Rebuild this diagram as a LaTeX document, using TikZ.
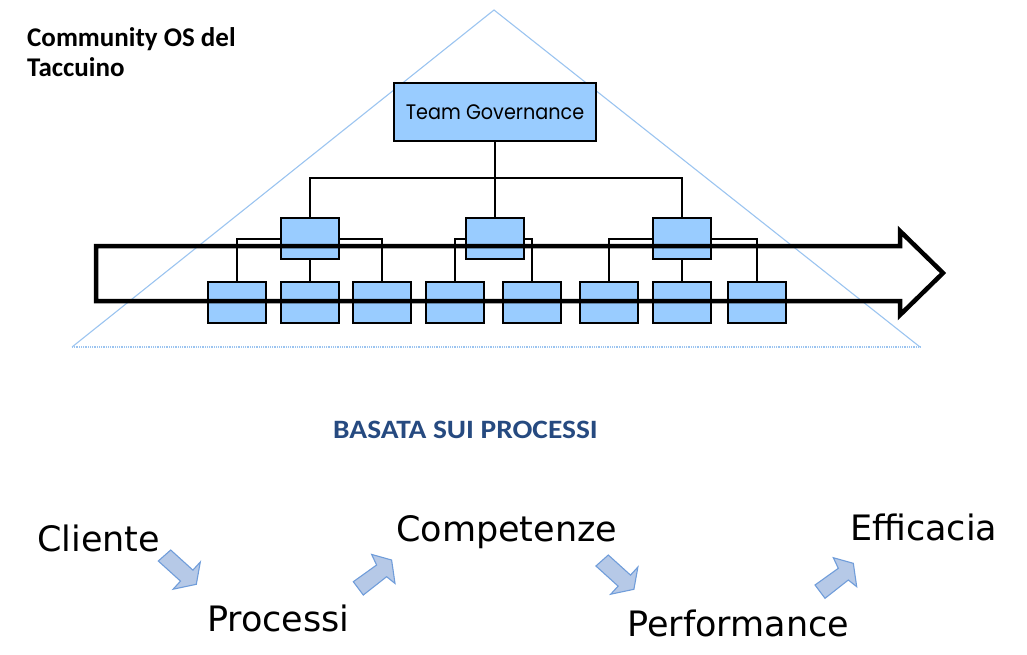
\documentclass[tikz,border=0pt]{standalone}
\usepackage{fontspec}
\newfontfamily\carl{Carlito}
\newfontfamily\djv{DejaVu Sans}
\newfontfamily\pop{Poppins}
\definecolor{boxblue}{RGB}{153,204,255}
\definecolor{trib}{RGB}{155,196,240}
\definecolor{headblue}{RGB}{38,74,128}
\definecolor{arrfill}{RGB}{182,201,231}
\definecolor{arrdraw}{RGB}{112,157,218}
\tikzset{
  orgbox/.style={draw=black, line width=2pt, fill=boxblue, inner sep=0pt, minimum width=58pt, minimum height=41pt},
  conn/.style={draw=black, line width=2pt},
  tri/.style={draw=trib, line width=1.1pt},
  bigarrow/.style={draw=black, line width=4.5pt, line join=miter},
  barrow/.style={draw=arrdraw, line width=1.1pt, fill=arrfill, line join=miter},
  bword/.style={anchor=base west, inner sep=0pt, font=\djv\fontsize{35}{40}\selectfont}
}
\begin{document}
\begin{tikzpicture}[x=1pt,y=-1pt]
\useasboundingbox (0,0) rectangle (1027,654);
% triangle
\coordinate (tA) at (494,10);
\coordinate (tL) at (72,347);
\coordinate (tR) at (920,347);
\draw[tri] (tL) -- (tA) -- (tR);
\draw[tri, line width=1.5pt, dash pattern=on 1pt off 0.8pt] (tL) -- (tR);
% org boxes
\node[orgbox, minimum width=202pt, minimum height=58pt, font=\pop\fontsize{20}{22}\selectfont] (tg) at (495,112) {\scalebox{0.96}[1.05]{Team Governance}};
\coordinate (bus) at (495,178);
\node[orgbox] (m1) at (309.5,238.5) {};
\node[orgbox] (m2) at (495,238.5) {};
\node[orgbox] (m3) at (681.5,238.5) {};
\node[orgbox] (l1) at (237,302.5) {};
\node[orgbox] (l2) at (309.5,302.5) {};
\node[orgbox] (l3) at (382,302.5) {};
\node[orgbox] (l4) at (455,302.5) {};
\node[orgbox] (l5) at (532,302.5) {};
\node[orgbox] (l6) at (609,302.5) {};
\node[orgbox] (l7) at (681.5,302.5) {};
\node[orgbox] (l8) at (757,302.5) {};
% connectors
\draw[conn] (tg.south) -- (tg.south |- bus);
\draw[conn] (m1.north) -- (m1.north |- bus) -- (m3.north |- bus) -- (m3.north);
\draw[conn] (m2.north) -- (m2.north |- bus);
\draw[conn] (l1.north) -- (l1.north |- m1.center) -- (m1.west |- m1.center);
\draw[conn] (m1.east |- m1.center) -- (l3.north |- m1.center) -- (l3.north);
\draw[conn] (m1.south) -- (l2.north);
\draw[conn] (l4.north) -- (l4.north |- m2.center) -- (m2.west |- m2.center);
\draw[conn] (m2.east |- m2.center) -- (l5.north |- m2.center) -- (l5.north);
\draw[conn] (l6.north) -- (l6.north |- m3.center) -- (m3.west |- m3.center);
\draw[conn] (m3.east |- m3.center) -- (l8.north |- m3.center) -- (l8.north);
\draw[conn] (m3.south) -- (l7.north);
% big outline arrow
\draw[bigarrow] (96,246) -- (900,246) -- (900,231) -- (943,273) -- (900,315) -- (900,301) -- (96,301) -- cycle;
% texts
\node[anchor=base west, inner sep=0pt, align=left, font=\carl\bfseries\fontsize{27}{30}\selectfont] (title) at (27,76.7) {Community OS del\\Taccuino};
\node[anchor=base west, inner sep=0pt, text=headblue, font=\carl\bfseries\fontsize{26.5}{30}\selectfont] (basata) at (333,438.3) {\scalebox{1.11}[1]{BASATA SUI PROCESSI}};
\node[bword] (cliente) at (37,551) {Cliente};
\node[bword] (processi) at (207,631) {Processi};
\node[bword] (competenze) at (396,541) {Competenze};
\node[bword] (performance) at (627,636) {Performance};
\node[bword] (efficacia) at (850,540) {Efficacia};
% small block arrows
\draw[barrow] (170.7,550) -- (192.9,570.1) -- (200.3,562) -- (196.3,584.3) -- (173.1,589.2) -- (180.5,581.1) -- (158.3,561) -- cycle;
\begin{scope}[shift={(437.6,5)}]
\draw[barrow] (170.7,550) -- (192.9,570.1) -- (200.3,562) -- (196.3,584.3) -- (173.1,589.2) -- (180.5,581.1) -- (158.3,561) -- cycle;
\end{scope}
\draw[barrow] (815,585) -- (838.3,568.3) -- (833.3,557.7) -- (853.3,563.3) -- (856.7,586.7) -- (848.3,580) -- (825,598.3) -- cycle;
\begin{scope}[shift={(-461.7,-3.3)}]
\draw[barrow] (815,585) -- (838.3,568.3) -- (833.3,557.7) -- (853.3,563.3) -- (856.7,586.7) -- (848.3,580) -- (825,598.3) -- cycle;
\end{scope}
\end{tikzpicture}
\end{document}
